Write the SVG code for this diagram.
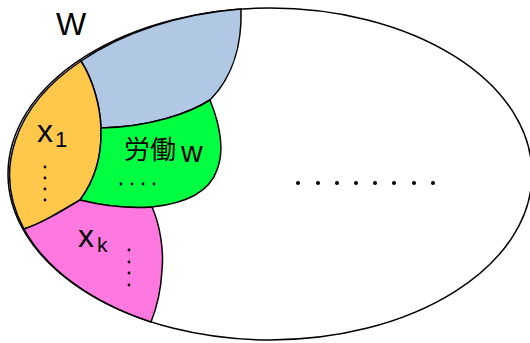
<svg xmlns="http://www.w3.org/2000/svg" width="530" height="343" viewBox="0 0 530 343">
<style>
.r{stroke:#000;stroke-width:1.5;stroke-linejoin:round}
.t{font-family:"Liberation Sans","Noto Sans CJK JP",sans-serif;fill:#000}
.d{fill:#000}
</style>
<rect width="530" height="343" fill="#fff"/>
<g id="whole">
<ellipse cx="270" cy="174" rx="262" ry="166" fill="#fff" class="r"/>
<text class="t" x="56" y="35" font-size="32">W</text>
<g class="d"><circle cx="298" cy="183" r="2"/><circle cx="318" cy="183" r="2"/><circle cx="337" cy="183" r="2"/><circle cx="356" cy="183" r="2"/><circle cx="375" cy="183" r="2"/><circle cx="394" cy="183" r="2"/><circle cx="414" cy="183" r="2"/><circle cx="433" cy="183" r="2"/></g>
</g>
<g id="blue">
<path class="r" fill="#B0C8E4" d="M81,61 A262,166 0 0 1 241,9 C242,40 235,75 210,100 C190,113 150,127 101,128 C100,105 93,80 81,61 Z"/>
</g>
<g id="x1">
<path class="r" fill="#FFC84A" d="M81,61 A262,166 0 0 0 24,229 C40,224 60,212 80,200 C95,180 102,155 101,128 C100,105 93,80 81,61 Z"/>
<text class="t" x="37" y="142" font-size="32">x<tspan x="55" y="147" font-size="22">1</tspan></text>
<g class="d"><circle cx="45" cy="167" r="1.4"/><circle cx="45" cy="178" r="1.4"/><circle cx="45" cy="189" r="1.4"/><circle cx="45" cy="200" r="1.4"/></g>
</g>
<g id="labor">
<path class="r" fill="#00FF40" d="M101,128 C150,127 190,113 210,100 C220,125 225,150 217,170 C210,190 190,203 152,207 C125,209 100,205 80,200 C95,180 102,155 101,128 Z"/>
<text class="t" x="124" y="159" font-size="26">労働<tspan x="181" y="162" font-size="30">w</tspan></text>
<g class="d"><circle cx="121" cy="184" r="1.4"/><circle cx="132" cy="184" r="1.4"/><circle cx="143" cy="184" r="1.4"/><circle cx="154" cy="184" r="1.4"/></g>
</g>
<g id="xk">
<path class="r" fill="#FF78E0" d="M24,229 C40,224 60,212 80,200 C100,205 125,209 152,207 C160,225 164,250 162,270 C161,290 157,307 151,322 A262,166 0 0 1 24,229 Z"/>
<text class="t" x="78" y="247" font-size="32">x<tspan x="97" y="252" font-size="21">k</tspan></text>
<g class="d"><circle cx="129" cy="250" r="1.4"/><circle cx="129" cy="262" r="1.4"/><circle cx="129" cy="273" r="1.4"/><circle cx="129" cy="285" r="1.4"/></g>
</g>
</svg>
